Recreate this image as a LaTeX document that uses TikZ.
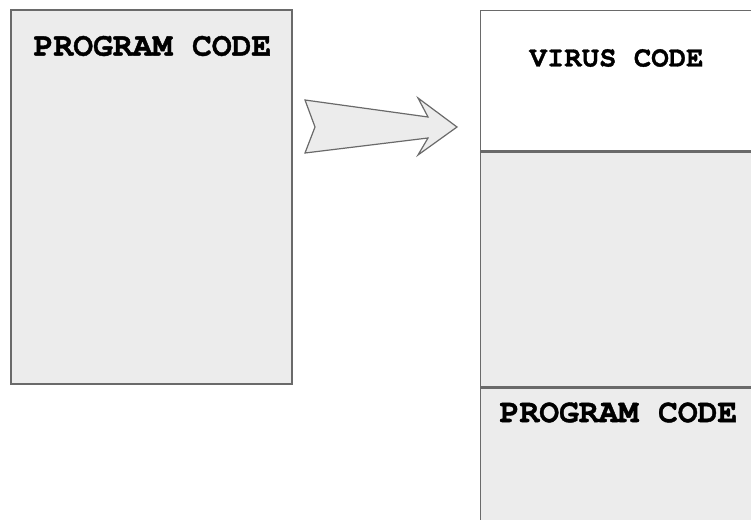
\documentclass[tikz,border=0pt]{standalone}
\usepackage{fontspec}
\setmonofont{texgyrecursor}[Extension=.otf,UprightFont=*-regular,BoldFont=*-bold,BoldFeatures={FakeBold=1.2}]
\usetikzlibrary{positioning}
\definecolor{blockgray}{HTML}{ECECEC}
\definecolor{edgegray}{HTML}{6A6A6A}
\tikzset{memblock/.style={draw=edgegray,line width=1.4pt,inner sep=0pt},
  codetext/.style={font=\ttfamily\bfseries\fontsize{33}{33}\selectfont,inner sep=0pt}}

\begin{document}
\begin{tikzpicture}[x=1pt,y=-1pt]
\useasboundingbox (0,0) rectangle (751,519);
\clip (0,0) rectangle (751,519);
% program before infection
\node[memblock,fill=blockgray,minimum width=281pt,minimum height=374pt] (prog) at (151.5,197) {};
\node[codetext] (progtext) at (152.5,46) {PROGRAM CODE};
% arrow
\draw[edgegray,fill=blockgray,line width=1.2pt,line join=miter]
  (305,100) -- (428,117) -- (418,98) -- (457,127) -- (418,155) -- (428,138) -- (305,153) -- (315,127) -- cycle;
% infected program
\node[memblock,fill=white,minimum width=300pt,minimum height=140pt,anchor=north west] (virus) at (480,10) {};
\node[memblock,fill=blockgray,minimum width=300pt,minimum height=235pt,anchor=north west] (host) at (virus.south west) {};
\node[memblock,fill=blockgray,minimum width=300pt,minimum height=160pt,anchor=north west] (rest) at (host.south west) {};
\node[codetext,font=\ttfamily\bfseries\fontsize{29}{29}\selectfont] (virustext) at (616.5,58) {VIRUS CODE};
\node[codetext] (resttext) at (618.5,412.5) {PROGRAM CODE};
\end{tikzpicture}
\end{document}
